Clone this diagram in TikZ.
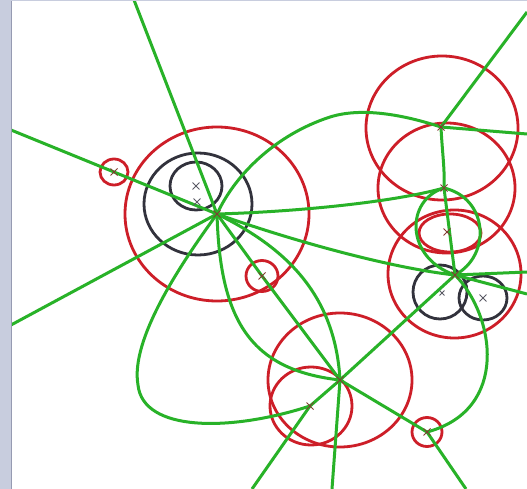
\documentclass[tikz,border=0pt]{standalone}
\usetikzlibrary{shapes.misc}
\definecolor{gc}{RGB}{40,178,40}
\definecolor{rc}{RGB}{205,30,40}
\definecolor{kc}{RGB}{50,50,60}
\definecolor{stripc}{RGB}{200,205,222}
\definecolor{stripl}{RGB}{150,155,178}
\definecolor{xc}{RGB}{130,60,50}
\definecolor{xg}{RGB}{90,90,100}
\tikzset{
  link/.style={draw=gc, line width=3pt},
  ring/.style={draw=rc, line width=2.8pt},
  bring/.style={draw=kc, line width=2.8pt},
  xmk/.style={cross out, draw=xc, minimum size=6pt, inner sep=0pt, line width=1pt},
  xmkg/.style={cross out, draw=xg, minimum size=6pt, inner sep=0pt, line width=0.9pt}
}
\begin{document}
\begin{tikzpicture}[x=1pt, y=-1pt]
\useasboundingbox (0,0) rectangle (527,489);
\fill[white] (0,0) rectangle (527,489);
\fill[stripc] (0,0) rectangle (11,489);
\fill[stripc] (0,0) rectangle (527,1.5);
\draw[stripl, line width=1pt] (11.5,1.5) -- (11.5,489);
% hubs
\coordinate (A) at (217,214);
\coordinate (B) at (340,380);
\coordinate (D) at (441,127);
\coordinate (E) at (444,188);
\coordinate (F) at (455,275);
\coordinate (G) at (310,406);
\coordinate (H) at (427,432);
\coordinate (S1) at (114,172);
\coordinate (S2) at (262,276);
\coordinate (L1) at (447,232);
\coordinate (K1) at (198,204);
\coordinate (K2) at (196,186);
\coordinate (K3) at (440,292);
\coordinate (K4) at (483,298);
% free ends
\coordinate (eTop) at (134,0);
\coordinate (eL1) at (11,130);
\coordinate (eL2) at (11,325);
\coordinate (eD1) at (527,134);
\coordinate (eD2) at (527,12);
\coordinate (eF1) at (527,272);
\coordinate (eF2) at (527,294);
\coordinate (eB) at (332,489);
\coordinate (eG) at (252,489);
\coordinate (eH) at (466,489);
\begin{scope}
\clip (12,1.5) rectangle (527,489);
% red circles
\draw[ring] (A) ellipse [x radius=92pt, y radius=87pt];
\draw[ring] (B) ellipse [x radius=72pt, y radius=67pt];
\draw[ring] (311,406) ellipse [x radius=41pt, y radius=39pt];
\draw[ring] (442,128) ellipse [x radius=76pt, y radius=72pt];
\draw[ring] (446.5,188) ellipse [x radius=68.5pt, y radius=65pt];
\draw[ring] (454.5,274) ellipse [x radius=66.5pt, y radius=64pt];
\draw[ring] (450,233) ellipse [x radius=31pt, y radius=19pt];
\draw[ring] (S1) ellipse [x radius=14pt, y radius=13pt];
\draw[ring] (S2) ellipse [x radius=16pt, y radius=15.5pt];
\draw[ring] (H) ellipse [x radius=15pt, y radius=14.5pt];
% black circles
\draw[bring] (K1) ellipse [x radius=54pt, y radius=51pt];
\draw[bring] (K2) ellipse [x radius=26pt, y radius=24pt];
\draw[bring] (K3) ellipse [x radius=27pt, y radius=27pt];
\draw[bring] (K4) ellipse [x radius=24pt, y radius=22pt];
% green connectors
\draw[link] (A) -- (eTop);
\draw[link] (A) -- (S1) -- (eL1);
\draw[link] (A) -- (eL2);
\draw[link] (A) .. controls (235,175) and (275,135) .. (330,117)
                 .. controls (365,106) and (410,117) .. (D);
\draw[link] (D) -- (eD1);
\draw[link] (D) -- (eD2);
\draw[link] (D) .. controls (442,150) and (445,170) .. (E);
\draw[link] (A) .. controls (290,212) and (390,203) .. (E);
\draw[link] (A) .. controls (290,240) and (390,268) .. (F);
\draw[link] (A) .. controls (280,245) and (335,290) .. (B);
\draw[link] (A) -- (S2) -- (B);
\draw[link] (A) .. controls (220,320) and (250,370) .. (B);
\draw[link] (A) .. controls (180,265) and (130,340) .. (138,385)
                 .. controls (143,432) and (230,432) .. (G);
\draw[link] (G) -- (B);
\draw[link] (G) -- (eG);
\draw[link] (B) -- (eB);
\draw[link] (B) -- (F);
\draw[link] (B) -- (H) -- (eH);
\draw[link] (E) -- (F);
\draw[link] (E) .. controls (405,200) and (405,258) .. (F);
\draw[link] (E) .. controls (488,198) and (492,255) .. (F);
\draw[link] (F) -- (eF1);
\draw[link] (F) -- (eF2);
\draw[link] (F) .. controls (495,315) and (510,410) .. (H);
\end{scope}
% cross marks
\foreach \p in {A,B,D,E,F,G,H,S1,S2,L1}
  \node[xmk] at (\p) {};
\node[xmkg] at (K2) {};
\node[xmkg] at (197,202) {};
\node[xmkg, minimum size=4pt] at (442,293) {};
\node[xmkg] at (K4) {};
\end{tikzpicture}
\end{document}
